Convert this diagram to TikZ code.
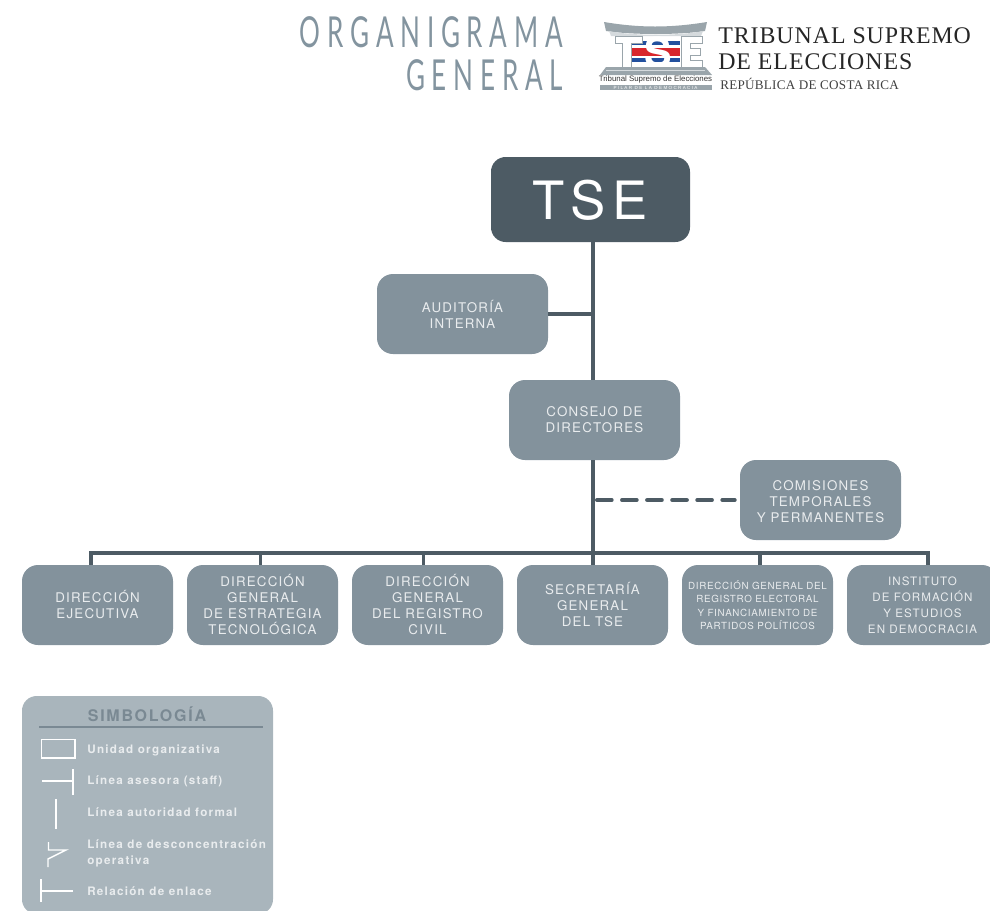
\documentclass[tikz,border=0pt]{standalone}
\usepackage{fontspec}
\usetikzlibrary{calc}
\setmainfont{Liberation Serif}
\newfontfamily\hvbox[LetterSpace=9]{TeX Gyre Heros}
\newfontfamily\hvsmall[LetterSpace=7]{TeX Gyre Heros}
\newfontfamily\hvtse[LetterSpace=13]{TeX Gyre Heros}
\newfontfamily\hvleg[LetterSpace=11]{TeX Gyre Heros}
\newfontfamily\titlef[LetterSpace=26]{Lato}
\newfontfamily\serifsp[LetterSpace=4]{Liberation Serif}
\newfontfamily\serifsm[LetterSpace=2]{Liberation Serif}
\newfontfamily\logobold{TeX Gyre Heros}
\newfontfamily\logosans{Liberation Sans}
\newfontfamily\logostrip[LetterSpace=30]{Liberation Sans}
\definecolor{boxc}{HTML}{83929C}
\definecolor{darkc}{HTML}{4D5B64}
\definecolor{lineC}{HTML}{4D5B64}
\definecolor{legc}{HTML}{A9B5BC}
\definecolor{legt}{HTML}{7A8993}
\definecolor{txtc}{HTML}{E9ECEE}
\definecolor{titc}{HTML}{83949F}
\definecolor{flagb}{HTML}{22509E}
\definecolor{flagr}{HTML}{D8262C}
\definecolor{logog}{HTML}{9AA5AB}
\definecolor{logol}{HTML}{D5DADD}
\tikzset{
  x=0.75pt,y=-0.75pt,
  orgbox/.style={fill=boxc,rounded corners=12pt,text=txtc,align=center,inner sep=0pt,
     font=\hvbox\fontsize{10}{12}\selectfont},
  smalltext/.style={font=\hvsmall\fontsize{7.35}{10}\selectfont},
  insttext/.style={font=\hvbox\fontsize{8.7}{12}\selectfont},
  conn/.style={draw=lineC,line width=3pt},
  busline/.style={draw=lineC,line width=2.6pt,line join=miter},
  dashconn/.style={draw=lineC,line width=3pt,line cap=round,dash pattern=on 11pt off 7.8pt},
  legline/.style={draw=white,line width=1.1pt},
  legtext/.style={anchor=west,inner sep=0pt,text=txtc,align=left,font=\hvleg\bfseries\fontsize{8.75}{12}\selectfont},
  titletext/.style={anchor=east,inner sep=0pt,text=titc,font=\titlef\fontsize{32}{32}\selectfont},
  logoletter/.style={fill=white,draw=logog,line width=.6pt},
}
\begin{document}
\begin{tikzpicture}
\useasboundingbox (0,0) rectangle (990,911);
\clip (0,0) rectangle (990,911);
% title
\node[titletext,xscale=.61,transform shape] (t1) at (563,32.5) {ORGANIGRAMA};
\node[titletext,xscale=.61,transform shape] (t2) at (563,75) {GENERAL};
% logo
\fill[logog] (604,22) .. controls (640,28) and (670,28) .. (707,22) -- (705,31) .. controls (680,35) and (632,35) .. (606,31) -- cycle;
\fill[logol] (609,31) .. controls (632,36) and (680,36) .. (703,31) -- (701,36) -- (611,36) -- cycle;
\fill[flagb] (625,41) rectangle (680,62);
\fill[white] (625,45) rectangle (680,58);
\fill[flagr] (625,47.5) rectangle (680,55.5);
\draw[logoletter] (615,36) -- (642,36) -- (642,43) -- (631,43) -- (631,67) -- (622,67) -- (622,43) -- (615,43) -- cycle;
\draw[logoletter] (681,36) -- (702,36) -- (702,43) -- (690,43) -- (690,48) -- (700,48) -- (700,55) -- (690,55) -- (690,60) -- (702,60) -- (702,67) -- (681,67) -- cycle;
\node[inner sep=0pt,text=white,font=\logobold\bfseries\fontsize{31}{31}\selectfont] (lg) at (658,52) {S};
\fill[logog] (606,67) -- (705,67) -- (712,75) -- (600,75) -- cycle;
\fill[logol] (606,69.5) rectangle (705,71);
\node[inner sep=0pt,text=black!80,font=\logosans\fontsize{5.9}{7}\selectfont] (lg2) at (655.5,79.5) {Tribunal Supremo de Elecciones};
\fill[logog] (600,85) rectangle (712,90);
\node[inner sep=0pt,text=white,font=\logostrip\fontsize{3.4}{4}\selectfont] (lg3) at (655.5,87.5) {PILAR DE LA DEMOCRACIA};
\node[anchor=west,inner sep=0pt,text=black!85,font=\serifsp\fontsize{17.9}{18}\selectfont] (ts1) at (718,36) {TRIBUNAL SUPREMO};
\node[anchor=west,inner sep=0pt,text=black!85,font=\serifsp\fontsize{17.9}{18}\selectfont] (ts2) at (718,62) {DE ELECCIONES};
\node[anchor=west,inner sep=0pt,text=black!75,font=\serifsm\fontsize{9.85}{10}\selectfont] (ts3) at (720,84) {REPÚBLICA DE COSTA RICA};
% boxes
\node[orgbox,fill=darkc,text=white,minimum width=149.25pt,minimum height=63.75pt,rounded corners=11pt,font=\hvtse\fontsize{39.6}{40}\selectfont] (tse) at (590.5,199.5) {\rule{0pt}{30pt}TSE};
\node[orgbox,minimum width=128.25pt,minimum height=60pt] (aud) at (462.5,314) {AUDITORÍA\\INTERNA};
\node[orgbox,minimum width=128.25pt,minimum height=60pt] (con) at (594.5,420) {CONSEJO DE\\DIRECTORES};
\node[orgbox,minimum width=120.75pt,minimum height=60pt] (com) at (820.5,500) {\rule{0pt}{10pt}COMISIONES\\TEMPORALES\\Y PERMANENTES};
\node[orgbox,minimum width=113.25pt,minimum height=60pt] (b1) at (97.5,605) {DIRECCIÓN\\EJECUTIVA};
\node[orgbox,minimum width=113.25pt,minimum height=60pt] (b2) at (262.5,605) {DIRECCIÓN\\GENERAL\\DE ESTRATEGIA\\TECNOLÓGICA};
\node[orgbox,minimum width=113.25pt,minimum height=60pt] (b3) at (427.5,605) {DIRECCIÓN\\GENERAL\\DEL REGISTRO\\CIVIL};
\node[orgbox,minimum width=113.25pt,minimum height=60pt] (b4) at (592.5,605) {SECRETARÍA\\GENERAL\\DEL TSE};
\node[orgbox,smalltext,minimum width=113.25pt,minimum height=60pt] (b5) at (757.5,605) {DIRECCIÓN GENERAL DEL\\REGISTRO ELECTORAL\\Y FINANCIAMIENTO DE\\PARTIDOS POLÍTICOS};
\node[orgbox,insttext,minimum width=113.25pt,minimum height=60pt] (b6) at (922.5,605) {INSTITUTO\\DE FORMACIÓN\\Y ESTUDIOS\\EN DEMOCRACIA};
% connector helpers
\coordinate (tk) at (593,500);
\coordinate (j1) at (91,553);
\coordinate (j2) at (260.5,553);
\coordinate (j3) at (423.5,553);
\coordinate (j5) at (760,553);
\coordinate (j6) at (928,553);
\coordinate (ds) at (597,500);
% connectors
\draw[conn] (tk |- tse.south) -- (tk |- con.north);
\draw[conn] (tk |- con.south) -- (tk |- b4.north);
\draw[conn] (aud.east) -- (aud.east -| tk);
\draw[dashconn] (ds) -- ($(com.west)+(-5,0)$);
\draw[busline] (j1 |- b1.north) -- (j1) -- (j6) -- (j6 |- b6.north);
\draw[busline] (j2) -- (j2 |- b2.north);
\draw[busline] (j3) -- (j3 |- b3.north);
\draw[busline] (j5) -- (j5 |- b5.north);
% legend
\fill[legc,rounded corners=11pt] (22,696) rectangle (273,914);
\node[inner sep=0pt,text=legt,font=\hvleg\bfseries\fontsize{12}{12}\selectfont] (st) at (147,714.5) {SIMBOLOGÍA};
\draw[draw=legt,line width=1.5pt] (39,727) -- (263,727);
\draw[legline] (41.5,739.5) rectangle (75,758);
\node[legtext] (l1) at (87,750) {Unidad organizativa};
\draw[legline] (42,781) -- (73,781);
\draw[legline] (73,769) -- (73,795);
\node[legtext] (l2) at (87,781.5) {Línea asesora (staff)};
\draw[legline] (56,799) -- (56,829);
\node[legtext] (l3) at (87,812) {Línea autoridad formal};
\draw[legline] (48.5,842) -- (48.5,850) -- (66,850) -- (48,859) -- (48,867);
\node[legtext] (l4) at (87,853) {Línea de desconcentración\\operativa};
\draw[legline] (41,879) -- (41,902);
\draw[legline] (41,891) -- (73,891);
\node[legtext] (l5) at (87,891) {Relación de enlace};
\end{tikzpicture}
\end{document}
